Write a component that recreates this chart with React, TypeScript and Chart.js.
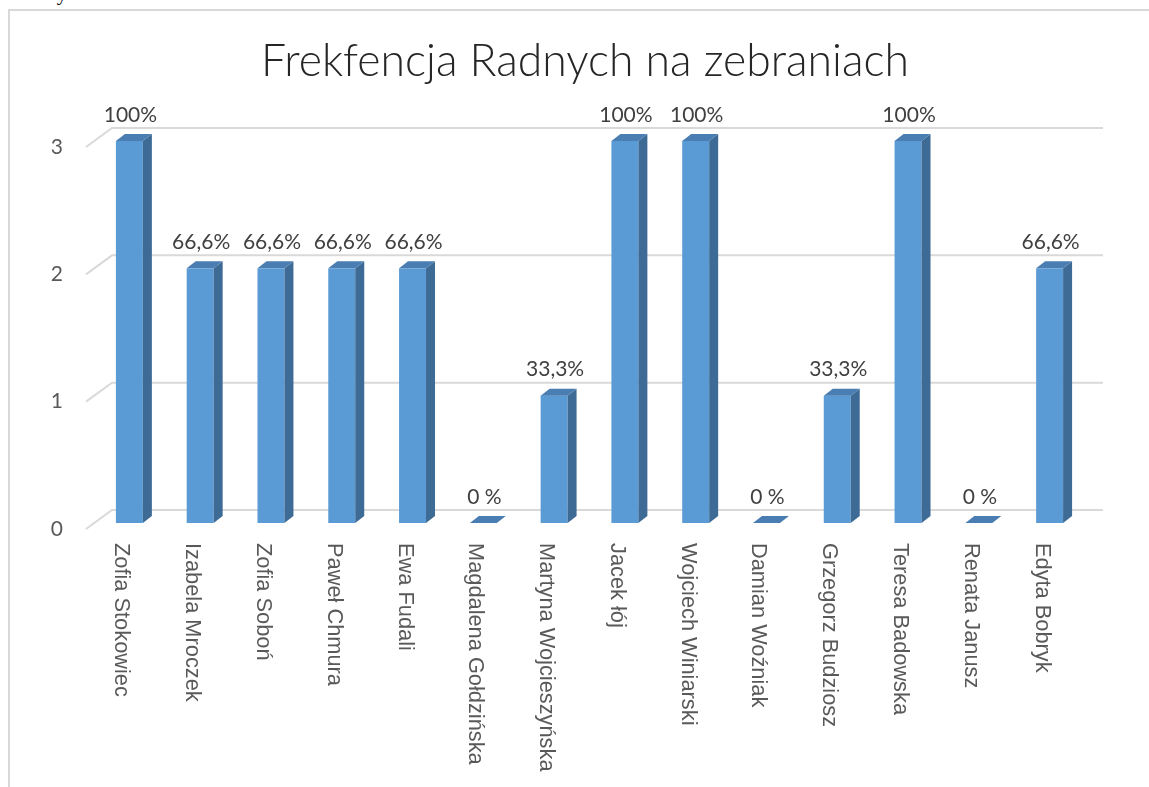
import React, { useEffect, useRef } from "react";
import { Chart, registerables } from "chart.js";

Chart.register(...registerables);

const title = "Frekfencja Radnych na zebraniach";
const categories = [
  "Zofia Stokowiec",
  "Izabela Mroczek",
  "Zofia Soboń",
  "Paweł Chmura",
  "Ewa Fudali",
  "Magdalena Gołdzińska",
  "Martyna Wojcieszyńska",
  "Jacek łój",
  "Wojciech Winiarski",
  "Damian Woźniak",
  "Grzegorz Budziosz",
  "Teresa Badowska",
  "Renata Janusz",
  "Edyta Bobryk",
];
const values = [3, 2, 2, 2, 2, 0, 1, 3, 3, 0, 1, 3, 0, 2];
const valueLabels = [
  "100%", "66,6%", "66,6%", "66,6%", "66,6%", "0 %", "33,3%",
  "100%", "100%", "0 %", "33,3%", "100%", "0 %", "66,6%",
];
const yTicks = [0, 1, 2, 3];

// 3D geometry
const WALL_DX = 26;
const WALL_DY = 19;
const BAR_OFF_X = 8;
const BAR_OFF_Y = 6;
const BAR_DX = 9;
const BAR_DY = 7;

const threeD = {
  id: "threeD",
  beforeDatasetsDraw(chart: any) {
    const { ctx, chartArea: a, scales } = chart;
    const y = scales.y;
    ctx.save();
    ctx.strokeStyle = "#d9d9d9";
    ctx.lineWidth = 2;
    for (const v of yTicks) {
      const py = y.getPixelForValue(v);
      ctx.beginPath();
      ctx.moveTo(a.left, py);
      ctx.lineTo(a.left + WALL_DX, py - WALL_DY);
      ctx.lineTo(a.right + WALL_DX, py - WALL_DY);
      ctx.stroke();
    }
    ctx.fillStyle = "#595959";
    ctx.font = "21px Lato";
    ctx.textAlign = "right";
    ctx.textBaseline = "middle";
    for (const v of yTicks) {
      const py = y.getPixelForValue(v);
      ctx.fillText(String(v), a.left - 23, py);
    }
    ctx.restore();
  },
  afterDatasetsDraw(chart: any) {
    const { ctx } = chart;
    const meta = chart.getDatasetMeta(0);
    ctx.save();
    meta.data.forEach((el: any, i: number) => {
      const p = el.getProps(["x", "y", "base", "width"], true);
      const w = p.width;
      const fl = p.x + BAR_OFF_X - w / 2;
      const fr = fl + w;
      const ft = p.y - BAR_OFF_Y;
      const fb = p.base - BAR_OFF_Y;
      if (fb - ft > 0.5) {
        ctx.fillStyle = "#5B9BD5";
        ctx.fillRect(fl, ft, w, fb - ft);
        ctx.fillStyle = "#3E6B96";
        ctx.beginPath();
        ctx.moveTo(fr, ft);
        ctx.lineTo(fr + BAR_DX, ft - BAR_DY);
        ctx.lineTo(fr + BAR_DX, fb - BAR_DY);
        ctx.lineTo(fr, fb);
        ctx.closePath();
        ctx.fill();
      }
      ctx.fillStyle = "#4A7DB1";
      ctx.beginPath();
      ctx.moveTo(fl, ft);
      ctx.lineTo(fl + BAR_DX, ft - BAR_DY);
      ctx.lineTo(fr + BAR_DX, ft - BAR_DY);
      ctx.lineTo(fr, ft);
      ctx.closePath();
      ctx.fill();

      ctx.fillStyle = "#404040";
      ctx.font = "21px Lato";
      ctx.textAlign = "center";
      ctx.textBaseline = "middle";
      ctx.fillText(valueLabels[i], p.x + 9, ft - 26);

      ctx.save();
      ctx.translate(p.x, 543);
      ctx.rotate(Math.PI / 2);
      ctx.fillStyle = "#595959";
      ctx.font = '21.8px "Liberation Sans"';
      ctx.textAlign = "left";
      ctx.textBaseline = "middle";
      ctx.fillText(categories[i], 0, 0);
      ctx.restore();
    });

    ctx.fillStyle = "#262626";
    ctx.font = '300 44.5px Lato';
    ctx.textAlign = "center";
    ctx.textBaseline = "middle";
    ctx.fillText(title, 585, 62);
    ctx.restore();
  },
};

export default function App() {
  const ref = useRef<HTMLCanvasElement | null>(null);
  useEffect(() => {
    if (!ref.current) return;
    const chart = new Chart(ref.current, {
      type: "bar",
      data: {
        labels: categories,
        datasets: [
          {
            data: values,
            backgroundColor: "rgba(0,0,0,0)",
            borderWidth: 0,
            categoryPercentage: 1,
            barPercentage: 0.381,
          },
        ],
      },
      options: {
        responsive: false,
        animation: false,
        devicePixelRatio: 1,
        layout: { padding: { left: 86, right: 72, top: 147, bottom: 258 } },
        scales: {
          x: { display: false },
          y: { display: false, min: 0, max: 3 },
        },
        plugins: {
          legend: { display: false },
          tooltip: { enabled: false },
          title: { display: false },
        },
      },
      plugins: [threeD],
    });
    return () => chart.destroy();
  }, []);

  return (
    <div
      style={{
        position: "fixed",
        left: 0,
        top: 0,
        width: 1149,
        height: 787,
        overflow: "hidden",
        background: "#ffffff",
      }}
    >
      <div
        style={{
          position: "absolute",
          left: 30,
          top: -17,
          fontFamily: '"Liberation Serif", serif',
          fontSize: 21,
          lineHeight: "21px",
          color: "#000",
        }}
      >
        rady.
      </div>
      <div
        style={{
          position: "absolute",
          left: 8,
          top: 9,
          width: 1300,
          height: 900,
          borderLeft: "2px solid #d9d9d9",
          borderTop: "2px solid #d9d9d9",
        }}
      />
      <canvas
        ref={ref}
        width={1149}
        height={787}
        style={{ position: "absolute", left: 0, top: 0, width: 1149, height: 787 }}
      />
    </div>
  );
}
